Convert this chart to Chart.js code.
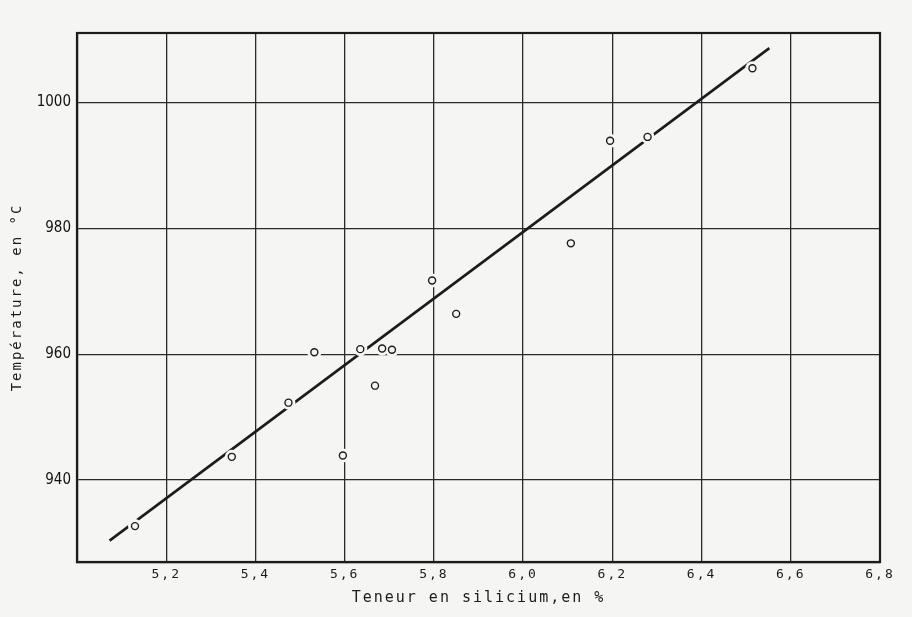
<!DOCTYPE html>
<html>
<head>
<meta charset="utf-8">
<script src="https://cdn.jsdelivr.net/npm/chart.js@4/dist/chart.umd.min.js"></script>
<style>
  html, body { margin: 0; padding: 0; background: #f5f5f3; }
  #wrap { width: 912px; height: 617px; }
</style>
</head>
<body>
<div id="wrap"><canvas id="c" width="912" height="617"></canvas></div>
<script>
// Data
const siliconPct   = [5.13, 5.347, 5.474, 5.532, 5.596, 5.635, 5.668, 5.684, 5.706, 5.796, 5.85, 6.107, 6.195, 6.279, 6.514];
const temperatureC = [932.7, 943.7, 952.3, 960.3, 943.9, 960.8, 955.0, 960.9, 960.7, 971.7, 966.4, 977.6, 993.9, 994.5, 1005.4];
const fitX = [5.073, 6.552];
const fitY = [930.4, 1008.6];
const xTickValues = [5.2, 5.4, 5.6, 5.8, 6.0, 6.2, 6.4, 6.6, 6.8];
const yTickValues = [940, 960, 980, 1000];
const xTitle = 'Teneur en silicium,en %';
const yTitle = 'Température, en °C';

const pts = siliconPct.map((x, i) => ({ x: x, y: temperatureC[i] }));
const fitPts = fitX.map((x, i) => ({ x: x, y: fitY[i] }));

const BG = '#f5f5f3';
const INK = '#1c1c1c';

const paperPlugin = {
  id: 'paper',
  afterLayout(chart) {
    const y = chart.scales.y;
    if (y && !y._noSpacing) {
      const orig = y.drawLabels;
      y.drawLabels = function (a) {
        const ctx = this.ctx, prev = ctx.letterSpacing;
        ctx.letterSpacing = '0px';
        orig.call(this, a);
        ctx.letterSpacing = prev;
      };
      y._noSpacing = true;
    }
  },
  beforeDraw(chart) {
    const ctx = chart.ctx;
    ctx.save();
    ctx.fillStyle = BG;
    ctx.fillRect(0, 0, chart.width, chart.height);
    ctx.restore();
    ctx.letterSpacing = '2px';
  },
  afterDraw(chart) {
    const a = chart.chartArea, ctx = chart.ctx;
    ctx.save();
    ctx.strokeStyle = INK;
    ctx.lineWidth = 2.2;
    ctx.strokeRect(a.left, a.top, a.right - a.left, a.bottom - a.top);
    ctx.restore();
    ctx.letterSpacing = '0px';
  }
};

new Chart(document.getElementById('c'), {
  type: 'scatter',
  data: {
    datasets: [
      { label: 'fit', data: fitPts, showLine: true, pointRadius: 0, borderColor: INK, borderWidth: 2.6, order: 3 },
      { label: 'halo', data: pts, pointRadius: 7, pointBackgroundColor: BG, pointBorderWidth: 0, pointBorderColor: BG, order: 2 },
      { label: 'mesures', data: pts, pointRadius: 3.5, pointBackgroundColor: BG, pointBorderColor: INK, pointBorderWidth: 1.4, order: 1 }
    ]
  },
  options: {
    responsive: false,
    devicePixelRatio: 1,
    animation: false,
    events: [],
    layout: { padding: { top: 33, right: 32, bottom: 0, left: 0 } },
    plugins: { legend: { display: false }, tooltip: { enabled: false } },
    scales: {
      x: {
        type: 'linear', min: 5.0, max: 6.8,
        afterBuildTicks: s => { s.ticks = xTickValues.map(v => ({ value: v })); },
        afterFit: s => { s.height = 55; },
        border: { display: true, color: INK, width: 2.2 },
        grid: { color: '#2a2a2a', lineWidth: 1.3, drawTicks: false },
        ticks: {
          padding: 5, color: INK, autoSkip: false, maxRotation: 0,
          font: { family: 'DejaVu Sans Mono', size: 13 },
          callback: v => Number(v).toFixed(1).replace('.', ',')
        },
        title: {
          display: true, text: xTitle, color: INK,
          font: { family: 'DejaVu Sans Mono', size: 15 },
          padding: { top: 0, bottom: 10 }
        }
      },
      y: {
        type: 'linear', min: 927, max: 1011,
        afterBuildTicks: s => { s.ticks = yTickValues.map(v => ({ value: v })); },
        afterFit: s => { s.width = 77; },
        border: { display: true, color: INK, width: 2.2 },
        grid: { color: '#2a2a2a', lineWidth: 1.3, drawTicks: false },
        ticks: {
          padding: 6, color: '#111',
          font: { family: "'DejaVu Sans Condensed', 'Liberation Sans Narrow', sans-serif", size: 15 },
          callback: v => String(v)
        },
        title: {
          display: true, text: yTitle, color: INK,
          font: { family: 'DejaVu Sans Mono', size: 14 },
          padding: { top: 9, bottom: 0 }
        }
      }
    }
  },
  plugins: [paperPlugin]
});
</script>
</body>
</html>
